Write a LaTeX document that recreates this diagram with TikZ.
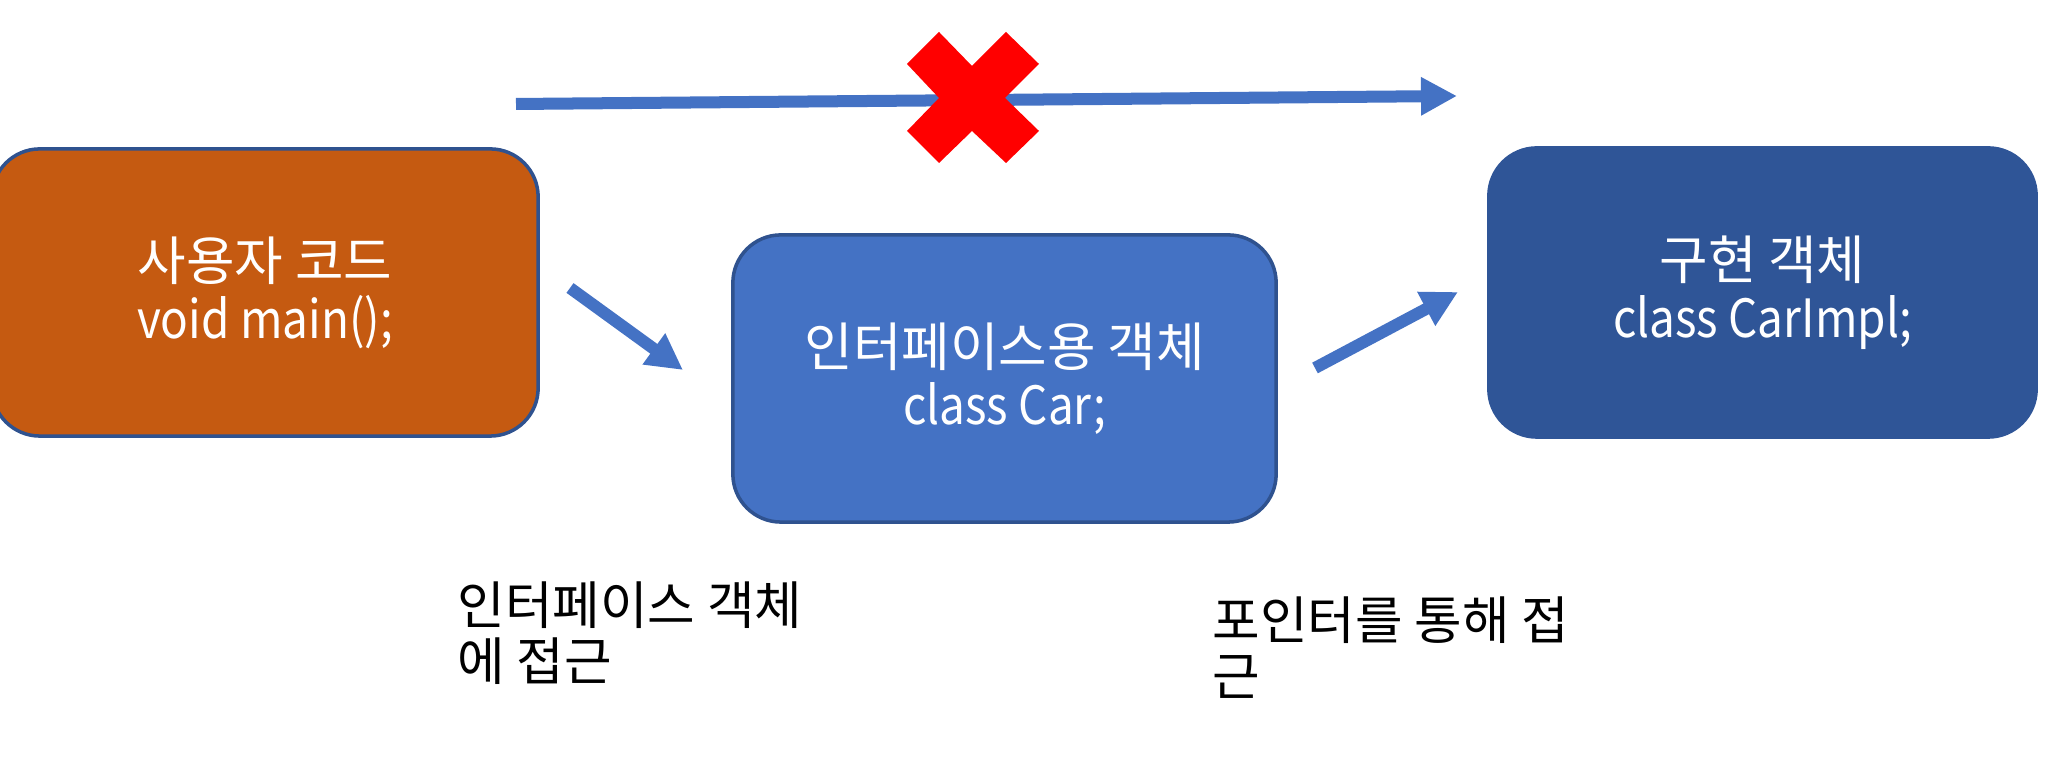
\documentclass[tikz,border=0pt]{standalone}
\usepackage{fontspec}
\usepackage{graphicx}
\setmainfont{Noto Sans CJK KR}
\usetikzlibrary{arrows.meta}
\definecolor{orangefill}{HTML}{C55A11}
\definecolor{bluefill}{HTML}{4472C4}
\definecolor{darkfill}{HTML}{2F5597}
\definecolor{edgeblue}{HTML}{2F528F}
\definecolor{arrowblue}{HTML}{4472C4}
\newcommand{\narrowlatin}[1]{\scalebox{0.87}[1]{#1}}
\tikzset{
  box/.style={rectangle, rounded corners=0.48cm, line width=1pt, draw=edgeblue,
    text=white, align=center, inner sep=0pt,
    font=\fontsize{15}{16.5}\selectfont},
  bigarrow/.style={draw=arrowblue, line width=0.12cm,
    -{Triangle[length=0.36cm,width=0.36cm]}},
  note/.style={anchor=north west, align=left, inner sep=0pt,
    font=\fontsize{14.7}{15.8}\selectfont}
}
\begin{document}
\begin{tikzpicture}[x=0.01cm,y=-0.01cm]
\useasboundingbox (0,0) rectangle (2069,762);
% boxes
\node[box, fill=orangefill, minimum width=5.46cm, minimum height=2.87cm] (user) at (265,292.5) {사용자 코드\\\narrowlatin{void main();}};
\node[box, fill=bluefill, minimum width=5.43cm, minimum height=2.87cm] (iface) at (1004.5,378.5) {인터페이스용 객체\\\narrowlatin{class Car;}};
\node[box, fill=darkfill, draw=darkfill, minimum width=5.47cm, minimum height=2.89cm] (impl) at (1762.5,292.5) {구현 객체\\\narrowlatin{class CarImpl;}};
% arrows
\coordinate (topS) at (516,104);
\coordinate (topE) at (1457,96);
\draw[bigarrow] (topS) -- (topE);
\coordinate (d1S) at (570,288);
\coordinate (d1E) at (683,370);
\draw[bigarrow] (d1S) -- (d1E);
\coordinate (d2S) at (1315,368);
\coordinate (d2E) at (1458,292);
\draw[bigarrow] (d2S) -- (d2E);
% red cross
\fill[red] (939,32) -- (972,66) -- (1006,32) -- (1039,64) -- (1005,98) -- (1039,131)
  -- (1006,163) -- (972,131) -- (939,163) -- (907,131) -- (939,98) -- (907,64) -- cycle;
% labels
\node[note] (lab1) at (457,581) {인터페이스 객체\\에 접근};
\node[note] (lab2) at (1212,596) {포인터를 통해 접\\근};
\end{tikzpicture}
\end{document}
